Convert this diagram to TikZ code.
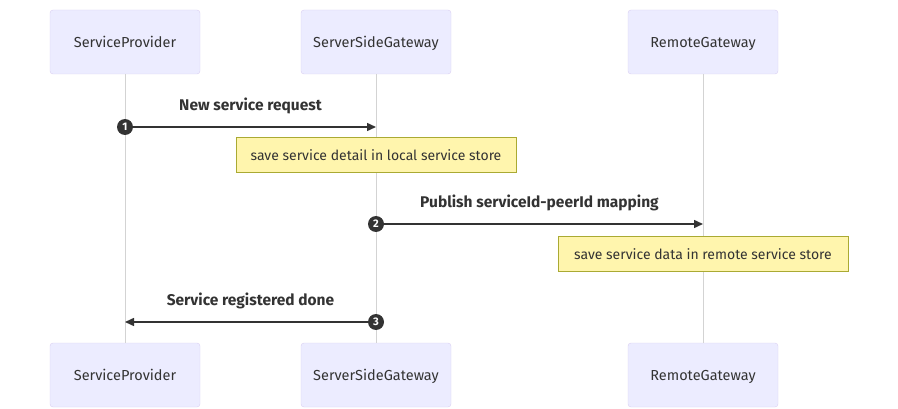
\documentclass[tikz,border=0pt]{standalone}
\usepackage{fontspec}
\setmainfont{Fira Sans}
\usepackage{tikz}
\usepackage{xcolor}
\usetikzlibrary{arrows.meta,positioning}

\definecolor{actorfill}{HTML}{ECECFF}
\definecolor{actorline}{HTML}{DACEF3}
\definecolor{notefill}{HTML}{FFF5AD}
\definecolor{noteline}{HTML}{AAAA33}
\definecolor{ink}{HTML}{333333}
\definecolor{lifeline}{HTML}{D3D3D3}

\begin{document}
\begin{tikzpicture}[x=1pt,y=-1pt,
		actor/.style={draw=actorline,fill=actorfill,rounded corners=3pt,minimum width=150pt,minimum height=64pt,font=\fontsize{14.5}{16}\selectfont,text=ink,text height=11.5pt,text depth=0pt},
		note/.style={draw=noteline,fill=notefill,minimum height=35pt,font=\fontsize{14}{16}\selectfont,text=ink,text height=11pt,text depth=0pt},
		msg/.style={draw=ink,line width=1.5pt,-{Triangle[length=9pt,width=8pt]}},
		msglabel/.style={font=\fontsize{15.5}{17}\selectfont\bfseries,text=ink},
		num/.style={circle,fill=ink,text=white,inner sep=0pt,minimum size=16pt,font=\fontsize{11}{11}\selectfont\bfseries},
		life/.style={draw=lifeline,line width=1pt}]
			\useasboundingbox (0,0) rectangle (898,409);
			
			\node[actor] (spTop) at (125,42) {ServiceProvider};
			\node[actor] (ssgTop) at (376,42) {ServerSideGateway};
			\node[actor] (rgTop) at (703,42) {RemoteGateway};
			\node[actor] (spBot) at (125,375) {ServiceProvider};
			\node[actor] (ssgBot) at (376,375) {ServerSideGateway};
			\node[actor] (rgBot) at (703,375) {RemoteGateway};
			
			\draw[life] (spTop) -- (spBot);
			\draw[life] (ssgTop) -- (ssgBot);
			\draw[life] (rgTop) -- (rgBot);
			
			\coordinate (sp1) at (125,127);
			\coordinate (ssg1) at (376,127);
			\coordinate (ssg2) at (376,224);
			\coordinate (rg2) at (703,224);
			\coordinate (ssg3) at (376,322);
			\coordinate (sp3) at (125,322);
			
			\draw[msg] (sp1) -- (ssg1)
				node[msglabel,midway,above=9pt] {New service request};
			\draw[msg] (ssg2) -- (rg2)
				node[msglabel,midway,above=9pt] {Publish serviceId-peerId mapping};
			\draw[msg] (ssg3) -- (sp3)
				node[msglabel,midway,above=9pt] {Service registered done};
			
			\node[num] (step1) at (sp1) {1};
			\node[num] (step2) at (ssg2) {2};
			\node[num] (step3) at (ssg3) {3};
			
			\node[note,minimum width=280pt] (noteLocal) at (376,155) {save service detail in local service store};
			\node[note,minimum width=290pt] (noteRemote) at (703,253.5) {save service data in remote service store};
		\end{tikzpicture}
\end{document}
